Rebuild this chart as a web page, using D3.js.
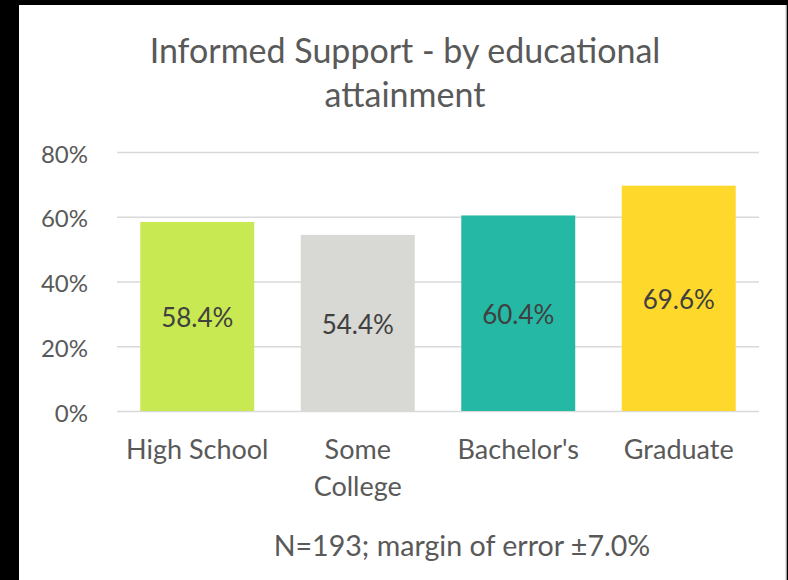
<!DOCTYPE html>
<html>
<head>
<meta charset="utf-8">
<script src="https://cdn.jsdelivr.net/npm/d3@7"></script>
<style>
  body { margin: 0; background: #000; }
  svg { display: block; }
  text { font-family: Lato, "Open Sans", sans-serif; }
</style>
</head>
<body>
<svg width="788" height="580"></svg>
<script>
// data
const categories = ["High School", "Some College", "Bachelor's", "Graduate"];
const values = [58.4, 54.4, 60.4, 69.6];
const barColors = ["#c8e952", "#d8d8d4", "#25b8a5", "#fed82a"];
const yTicks = [0, 20, 40, 60, 80];
const titleLines = ["Informed Support - by educational", "attainment"];
const footnote = "N=193; margin of error \u00b17.0%";

const width = 788, height = 580;
let margin = {top: 152, right: 29, bottom: 169, left: 117},
    plotWidth = width - margin.left - margin.right,
    plotHeight = height - margin.top - margin.bottom;

const svg = d3.select("svg");

// black frame + white panel
svg.append("rect")
    .attr("width", width).attr("height", height)
    .attr("fill", "#000");
svg.append("rect")
    .attr("x", 19).attr("y", 5)
    .attr("width", 767).attr("height", 580)
    .attr("fill", "#fff");
svg.append("line")
    .attr("x1", 786).attr("x2", 786).attr("y1", 5).attr("y2", 580)
    .attr("stroke", "#d6d6d6").attr("stroke-width", 1.5);

// title
svg.append("text")
    .attr("x", 405)
    .attr("y", 63)
    .attr("text-anchor", "middle")
    .attr("font-size", "34px")
    .attr("fill", "#595959")
    .selectAll("tspan").data(titleLines)
    .enter().append("tspan")
        .attr("x", 405)
        .attr("dy", (d, i) => i == 0 ? 0 : 44)
        .text(d => d);

const g = svg.append("g")
    .attr("transform", `translate(${margin.left}, ${margin.top})`);

const x = d3.scaleBand()
    .domain(categories)
    .range([0, plotWidth])
    .paddingInner(0.29)
    .paddingOuter(0.145);

const y = d3.scaleLinear()
    .domain([0, 80])
    .range([plotHeight, 0]);

// gridlines
const yAxis = d3.axisLeft(y)
    .tickValues(yTicks)
    .tickSize(-plotWidth)
    .tickFormat(d => d + "%")
    .tickPadding(29);

const yAxisG = g.append("g").call(yAxis);
yAxisG.select(".domain").remove();
yAxisG.selectAll(".tick line")
    .attr("stroke", "#d9d9d9")
    .attr("stroke-width", 1.5);
yAxisG.selectAll(".tick text")
    .attr("font-size", "24px")
    .attr("dy", "0.42em")
    .attr("fill", "#595959")
    .attr("font-family", "Lato, sans-serif");

// bars
g.selectAll("rect.bar").data(categories)
    .enter().append("rect")
        .attr("class", "bar")
        .attr("x", d => x(d))
        .attr("y", (d, i) => y(values[i]))
        .attr("width", x.bandwidth())
        .attr("height", (d, i) => plotHeight - y(values[i]))
        .attr("fill", (d, i) => barColors[i]);

// value labels
g.selectAll("text.val").data(categories)
    .enter().append("text")
        .attr("class", "val")
        .attr("x", d => x(d) + x.bandwidth() / 2)
        .attr("y", (d, i) => (y(values[i]) + plotHeight) / 2 + 4)
        .attr("text-anchor", "middle")
        .attr("dominant-baseline", "middle")
        .attr("font-size", "26px")
        .attr("fill", "#404040")
        .text((d, i) => values[i].toFixed(1) + "%");

// category labels (wrapped)
const xAxis = d3.axisBottom(x).tickSize(0).tickPadding(0);
const xAxisG = g.append("g")
    .attr("transform", `translate(0, ${plotHeight})`)
    .call(xAxis);
xAxisG.select(".domain").remove();
xAxisG.selectAll(".tick text").each(function(d) {
    const t = d3.select(this);
    const lines = d == "Some College" ? ["Some", "College"] : [d];
    t.text(null)
        .attr("y", 48)
        .attr("dy", null)
        .attr("font-size", "27px")
        .attr("fill", "#595959")
        .attr("font-family", "Lato, sans-serif");
    lines.forEach((l, i) => {
        t.append("tspan")
            .attr("x", 0)
            .attr("dy", i == 0 ? 0 : 37)
            .text(l);
    });
});

// footnote
svg.append("text")
    .attr("x", 462)
    .attr("y", 556)
    .attr("text-anchor", "middle")
    .attr("font-size", "28.6px")
    .attr("fill", "#595959")
    .text(footnote);
</script>
</body>
</html>
